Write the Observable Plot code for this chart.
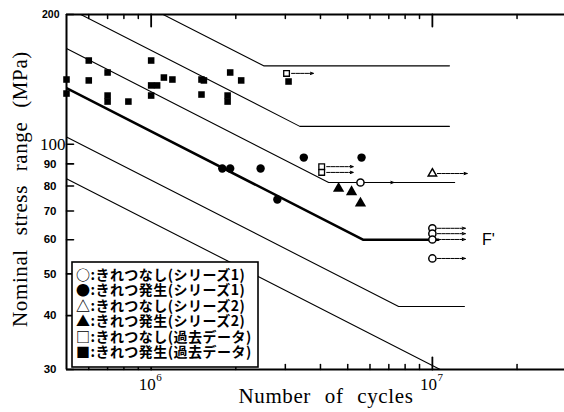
<!DOCTYPE html>
<html>
<head>
<meta charset="utf-8">
<script src="https://cdn.jsdelivr.net/npm/d3@7"></script>
<script src="https://cdn.jsdelivr.net/npm/@observablehq/plot@0.6"></script>
<style>
  html, body { margin: 0; padding: 0; background: #fff; }
  #chart { width: 564px; height: 412px; }
</style>
</head>
<body>
<div id="chart"></div>
<script>
// Design S-N curves (slope m = 3): stress range at 2×10^6 cycles, constant-amplitude limit, end of plateau
const curveRef = [164, 131, 105, 85, 65.5, 52.4];
const curveCut = [152, 110, 81.5, 60, 42, 30];
const curveEnd = [1.15e7, 1.15e7, 1.2e7, 1.05e7, 1.3e7, 1.2e7];
const boldCurve = 3; // F'
const curveLabel = "F'";
const curveLabelN = 1.5e7;

// Series 1: cracked (filled circle) / no crack (open circle, run-out arrow end)
const s1CrackN = [1.79e6, 1.91e6, 2.45e6, 2.81e6, 3.49e6, 5.6e6];
const s1CrackS = [87.8, 87.8, 87.8, 74.4, 93.1, 93.1];
const s1RunN = [5.55e6, 1.0e7, 1.0e7, 1.0e7, 1.0e7];
const s1RunS = [81.5, 63.8, 62.0, 60.1, 54.3];
const s1RunTo = [7.3e6, 1.31e7, 1.31e7, 1.31e7, 1.31e7];

// Series 2: cracked (filled triangle) / no crack (open triangle)
const s2CrackN = [4.64e6, 5.16e6, 5.55e6];
const s2CrackS = [78.9, 77.5, 72.9];
const s2RunN = [1.0e7];
const s2RunS = [85.5];
const s2RunTo = [1.33e7];

// Earlier test data: cracked (filled square) / no crack (open square)
const pastCrackN = [5.0e5, 5.0e5, 6.0e5, 6.0e5, 7.0e5, 7.0e5, 7.0e5, 8.3e5, 1.0e6, 1.0e6, 1.05e6, 1.0e6,
                    1.11e6, 1.19e6, 1.51e6, 1.54e6, 1.51e6, 1.91e6, 1.87e6, 1.87e6, 2.09e6, 3.08e6];
const pastCrackS = [141.3, 131.1, 156.4, 140.6, 146.7, 129.7, 125.6, 125.6, 156.4, 136.9, 136.9, 129.7,
                    142.8, 141.3, 141.3, 140.6, 130.4, 146.7, 129.7, 125.6, 140.6, 139.8];
const pastRunN = [3.03e6, 4.04e6, 4.04e6];
const pastRunS = [146.0, 88.7, 86.0];
const pastRunTo = [3.78e6, 5.24e6, 5.24e6];

// Axis ticks
const yTickValues = [200, 100, 90, 80, 70, 60, 50, 40, 30];
const xMajorTicks = [1e6, 1e7];
const xMinorTicks = [6e5, 7e5, 8e5, 9e5, 2e6, 3e6, 4e6, 5e6, 6e6, 7e6, 8e6, 9e6, 2e7];

const legendItems = [
  "○:きれつなし(シリーズ1)",
  "●:きれつ発生(シリーズ1)",
  "△:きれつなし(シリーズ2)",
  "▲:きれつ発生(シリーズ2)",
  "□:きれつなし(過去データ)",
  "■:きれつ発生(過去データ)"
];

const xDomain = [5e5, 2.95e7];
const yDomain = [30, 200];

// Build tables for the marks
const snRows = [];
curveRef.forEach((ref, i) => {
  const knee = 2e6 * Math.pow(ref / curveCut[i], 3);
  snRows.push({id: i, N: xDomain[0], S: ref * Math.cbrt(2e6 / xDomain[0])});
  snRows.push({id: i, N: knee, S: curveCut[i]});
  snRows.push({id: i, N: Math.max(knee, curveEnd[i]), S: curveCut[i]});
});
const thinRows = snRows.filter(d => d.id !== boldCurve);
const boldRows = snRows.filter(d => d.id === boldCurve);

const pts = (ns, ss) => ns.map((n, i) => ({N: n, S: ss[i]}));
const runs = (ns, ss, to) => ns.map((n, i) => ({N: n, S: ss[i], to: to[i]}));
const arrows = [...runs(s1RunN, s1RunS, s1RunTo), ...runs(s2RunN, s2RunS, s2RunTo), ...runs(pastRunN, pastRunS, pastRunTo)];

const tickShape = {draw(context, l) { context.moveTo(0, 0); context.lineTo(0, -l); }};
const serif = "Liberation Serif, Times New Roman, serif";
const sans = "Liberation Sans, Arial, sans-serif";

const chart = Plot.plot({
  width: 564,
  height: 412,
  marginLeft: 66,
  marginRight: 0,
  marginTop: 14,
  marginBottom: 43,
  style: {background: "#fff", color: "#000", overflow: "visible"},
  x: {type: "log", domain: xDomain, axis: null},
  y: {type: "log", domain: yDomain, axis: null},
  marks: [
    // S-N design curves
    Plot.line(thinRows, {x: "N", y: "S", z: "id", stroke: "#000", strokeWidth: 1.1, clip: true}),
    Plot.line(boldRows, {x: "N", y: "S", stroke: "#000", strokeWidth: 2.6, clip: true}),
    Plot.text([curveLabel], {x: curveLabelN, y: curveCut[boldCurve], text: d => d, textAnchor: "start",
      fontFamily: sans, fontSize: 16}),
    // run-out arrows
    Plot.arrow(arrows, {x1: "N", y1: "S", x2: "to", y2: "S", stroke: "#000", strokeWidth: 1,
      strokeDasharray: "3.5 1", headLength: 5, headAngle: 40, insetStart: 5}),
    // data points
    Plot.dot(pts(pastCrackN, pastCrackS), {x: "N", y: "S", symbol: "square", r: 3.7, fill: "#000"}),
    Plot.dot(pts(pastRunN, pastRunS), {x: "N", y: "S", symbol: "square", r: 3.2, fill: "#fff", stroke: "#000", strokeWidth: 1.3}),
    Plot.dot(pts(s1CrackN, s1CrackS), {x: "N", y: "S", symbol: "circle", r: 4.2, fill: "#000"}),
    Plot.dot(pts(s1RunN, s1RunS), {x: "N", y: "S", symbol: "circle", r: 3.6, fill: "#fff", stroke: "#000", strokeWidth: 1.5}),
    Plot.dot(pts(s2CrackN, s2CrackS), {x: "N", y: "S", symbol: "triangle", r: 4.2, fill: "#000"}),
    Plot.dot(pts(s2RunN, s2RunS), {x: "N", y: "S", symbol: "triangle", r: 3.1, fill: "#fff", stroke: "#000", strokeWidth: 1.5}),
    // frame lines
    Plot.ruleX([xDomain[0]], {stroke: "#000", strokeWidth: 2}),
    Plot.ruleY([yDomain[0], yDomain[1]], {stroke: "#000", strokeWidth: 2}),
    // inward ticks
    Plot.vector(yTickValues, {x: xDomain[0], y: d => d, length: 7, rotate: 90, anchor: "start", shape: tickShape, stroke: "#000", strokeWidth: 1.6}),
    Plot.vector(xMajorTicks, {x: d => d, y: yDomain[0], length: 12, rotate: 0, anchor: "start", shape: tickShape, stroke: "#000", strokeWidth: 1.8}),
    Plot.vector(xMinorTicks, {x: d => d, y: yDomain[0], length: 5, rotate: 0, anchor: "start", shape: tickShape, stroke: "#000", strokeWidth: 1.5}),
    Plot.vector(xMajorTicks, {x: d => d, y: yDomain[1], length: 12, rotate: 180, anchor: "start", shape: tickShape, stroke: "#000", strokeWidth: 1.8}),
    Plot.vector(xMinorTicks, {x: d => d, y: yDomain[1], length: 4, rotate: 180, anchor: "start", shape: tickShape, stroke: "#000", strokeWidth: 1.5}),
    // y tick labels
    Plot.text(yTickValues.filter(d => d !== 100 && d !== 200), {x: xDomain[0], y: d => d, text: d => String(d),
      textAnchor: "end", dx: -10, fontFamily: sans, fontWeight: "bold", fontSize: 11.5}),
    Plot.text([200], {x: xDomain[0], y: d => d, text: d => String(d), textAnchor: "end", dx: -7,
      fontFamily: sans, fontWeight: "bold", fontSize: 10.5}),
    Plot.text([100], {x: xDomain[0], y: d => d, text: d => String(d), textAnchor: "end", dx: -1,
      fontFamily: serif, fontSize: 17}),
    // x tick labels (10 with superscript exponent)
    Plot.text(xMajorTicks, {x: d => d, y: yDomain[0], text: () => "10", textAnchor: "middle", dx: -4, dy: 15,
      fontFamily: serif, fontSize: 17}),
    Plot.text(xMajorTicks, {x: d => d, y: yDomain[0], text: d => String(Math.round(Math.log10(d))), textAnchor: "start", dx: 5, dy: 8,
      fontFamily: serif, fontSize: 11})
  ]
});

document.getElementById("chart").appendChild(chart);

// axis titles and legend
const svg = d3.select(chart);
svg.append("text")
  .attr("x", 326).attr("y", 403)
  .attr("text-anchor", "middle")
  .style("font-family", serif).style("font-size", "21px")
  .style("letter-spacing", "0.6px").style("word-spacing", "8px")
  .text("Number of cycles");
svg.append("text")
  .attr("transform", "translate(27,189) rotate(-90)")
  .attr("text-anchor", "middle")
  .style("font-family", serif).style("font-size", "21px")
  .style("letter-spacing", "0.6px").style("word-spacing", "8px")
  .text("Nominal stress range (MPa)");

const lg = svg.append("g");
lg.append("rect")
  .attr("x", 72).attr("y", 262).attr("width", 186).attr("height", 105)
  .attr("fill", "#fff").attr("stroke", "#000").attr("stroke-width", 1.6);
lg.selectAll("text.item").data(legendItems).join("text")
  .attr("class", "item")
  .attr("x", 76)
  .attr("y", (d, i) => 280 + i * 15.4)
  .attr("text-anchor", "start")
  .style("font-family", "Noto Sans CJK JP, sans-serif")
  .style("font-size", "14px")
  .style("font-weight", "bold")
  .style("letter-spacing", "0.5px")
  .text(d => d);
</script>
</body>
</html>
